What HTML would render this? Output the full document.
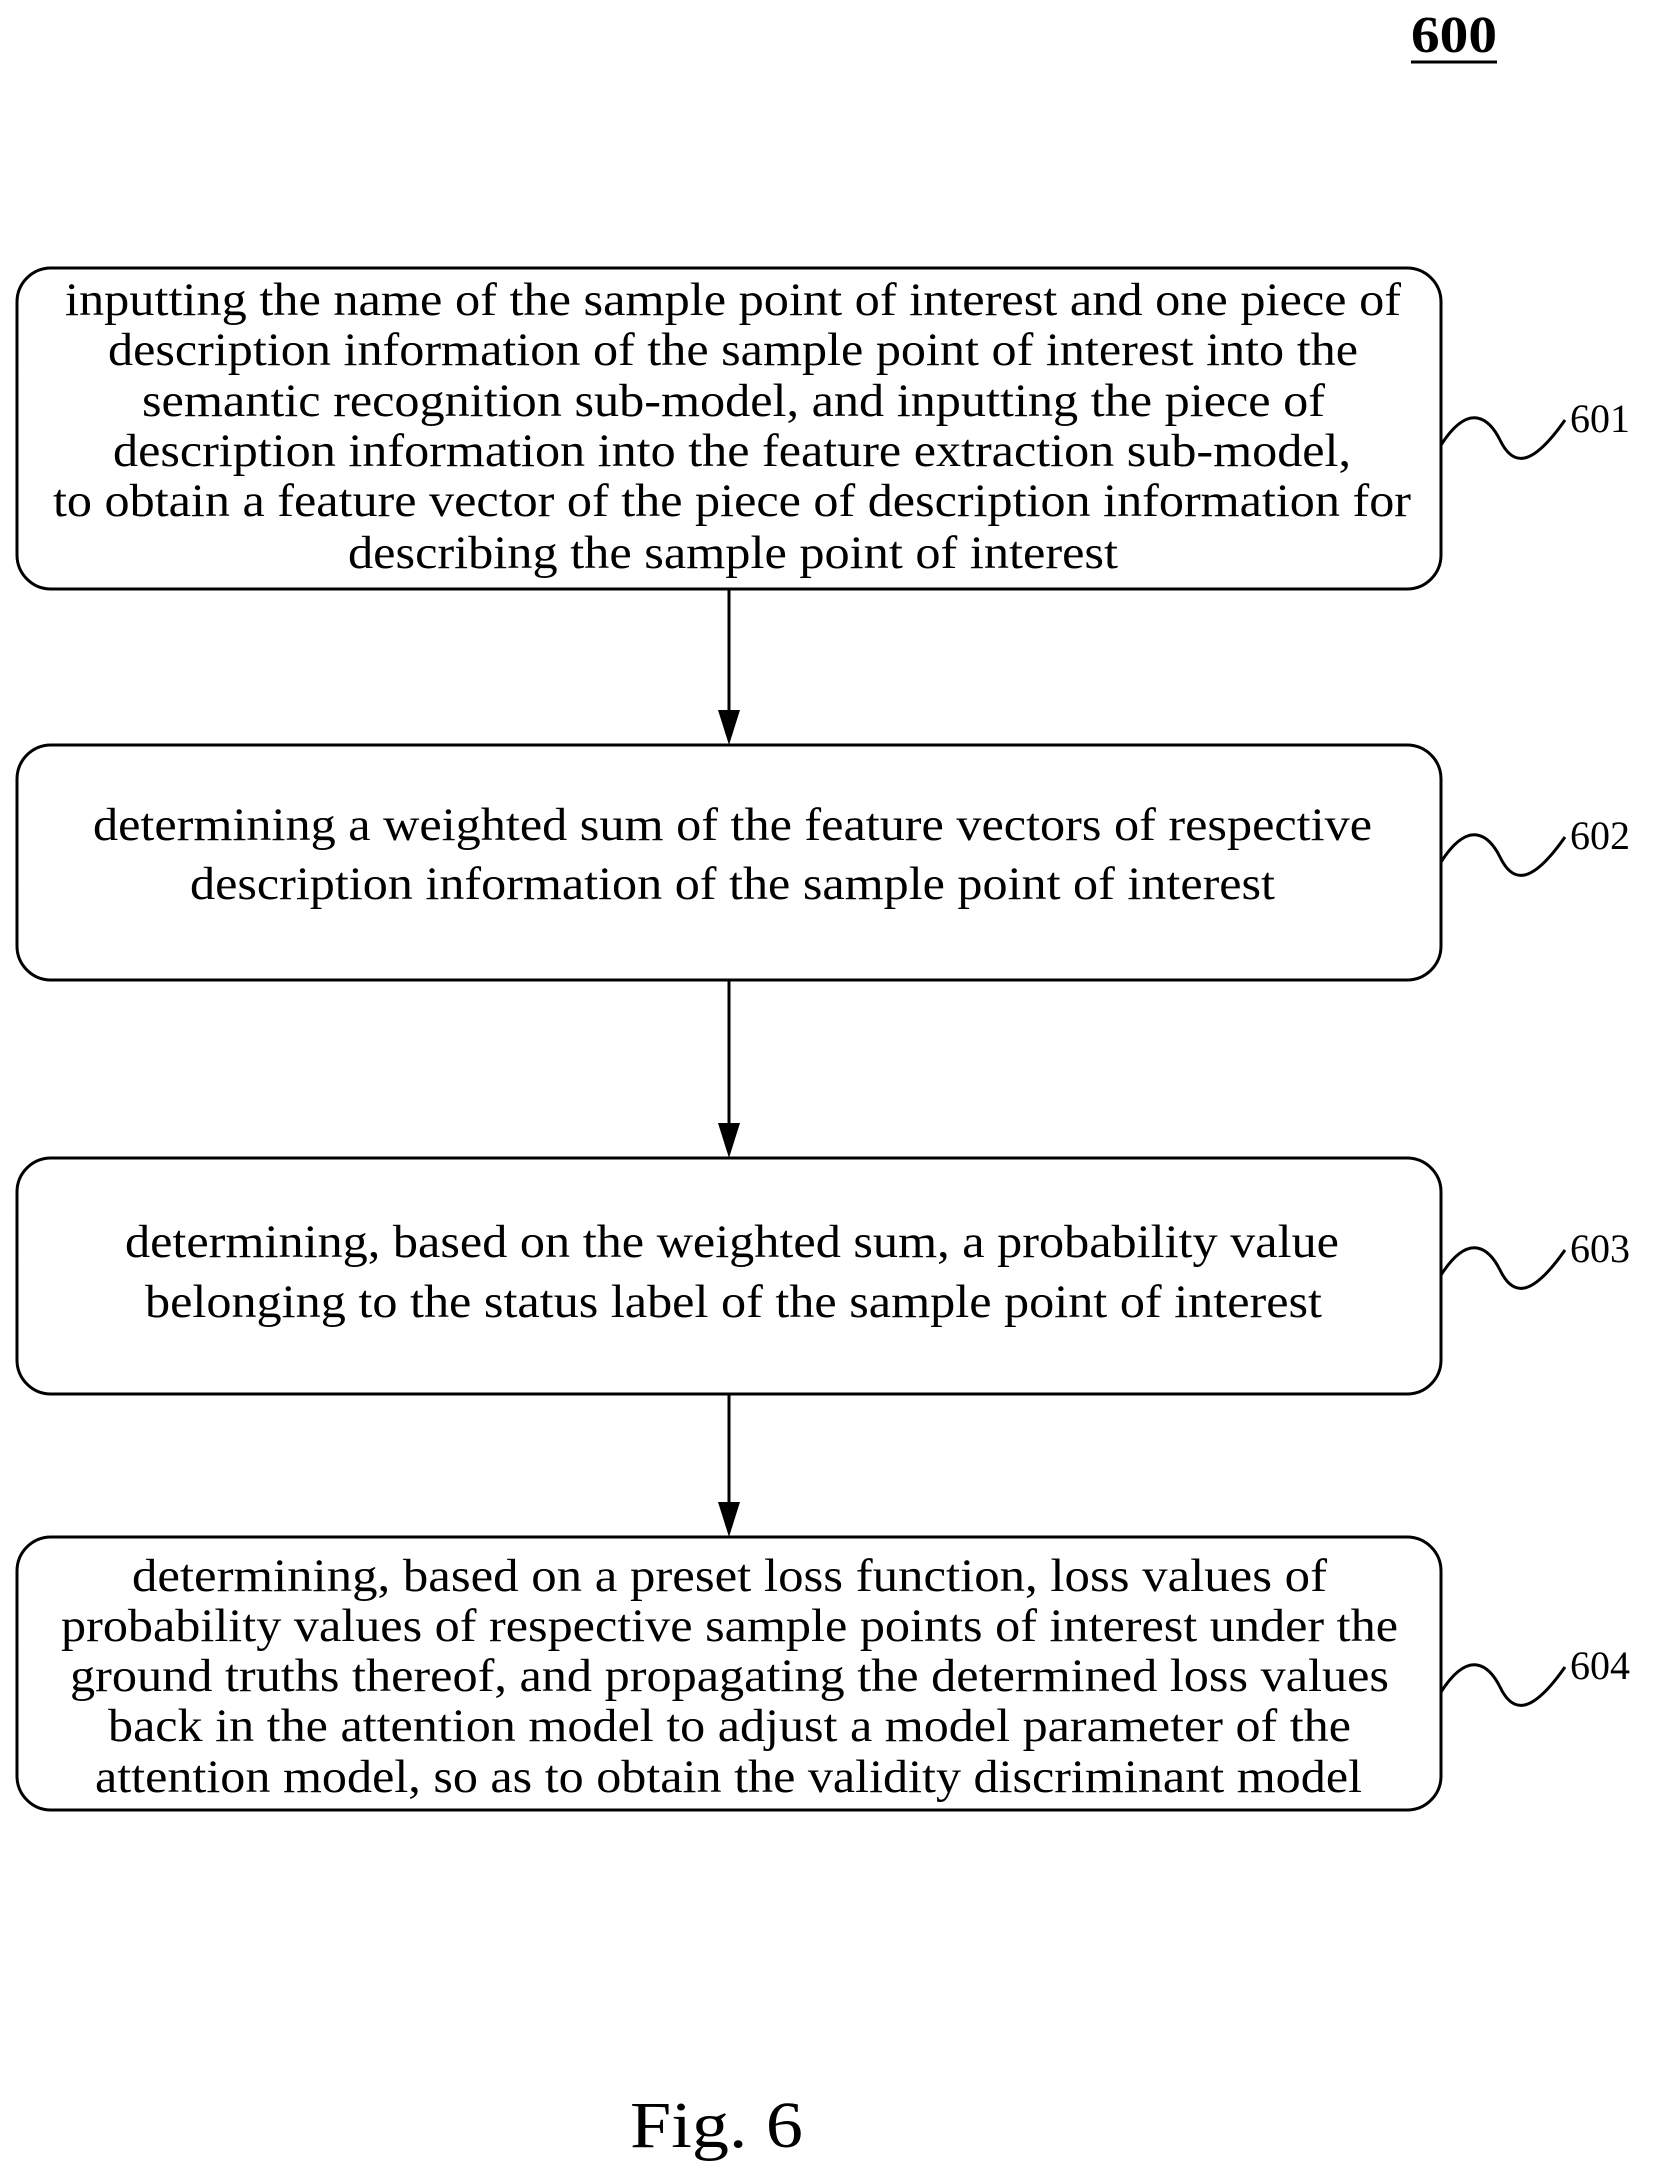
<!DOCTYPE html>
<html><head><style>body{margin:0;background:#fff}svg{display:block}text{font-family:"Liberation Serif","Times New Roman",serif}</style></head><body>
<svg width="1654" height="2173" viewBox="0 0 1654 2173" xmlns="http://www.w3.org/2000/svg" fill="#000">
<text x="1454" y="52" font-size="52" font-weight="bold" text-anchor="middle" textLength="86" lengthAdjust="spacingAndGlyphs">600</text>
<line x1="1411" y1="62" x2="1497" y2="62" stroke="#000" stroke-width="3"/>
<g fill="none" stroke="#000" stroke-width="3">
<rect x="17" y="268" width="1424" height="321" rx="34"/>
<rect x="17" y="745" width="1424" height="235" rx="34"/>
<rect x="17" y="1158" width="1424" height="236" rx="34"/>
<rect x="17" y="1537" width="1424" height="273" rx="34"/>
<line x1="729" y1="589" x2="729" y2="715"/>
<line x1="729" y1="980" x2="729" y2="1128"/>
<line x1="729" y1="1394" x2="729" y2="1507"/>
<path d="M1441 445 C1470 400,1490 420,1500 440 C1512 465,1530 470,1565 420"/>
<path d="M1441 862 C1470 817,1490 837,1500 857 C1512 882,1530 887,1565 837"/>
<path d="M1441 1275 C1470 1230,1490 1250,1500 1270 C1512 1295,1530 1300,1565 1250"/>
<path d="M1441 1692 C1470 1647,1490 1667,1500 1687 C1512 1712,1530 1717,1565 1667"/>
</g>
<path d="M718 710 L740 710 L729 745 Z"/>
<path d="M718 1123 L740 1123 L729 1158 Z"/>
<path d="M718 1502 L740 1502 L729 1537 Z"/>
<g font-size="40">
<text x="1570" y="432">601</text>
<text x="1570" y="849">602</text>
<text x="1570" y="1262">603</text>
<text x="1570" y="1679">604</text>
</g>
<g font-size="47">
<text x="65" y="315" textLength="1336" lengthAdjust="spacingAndGlyphs">inputting the name of the sample point of interest and one piece of</text>
<text x="108" y="365" textLength="1250" lengthAdjust="spacingAndGlyphs">description information of the sample point of interest into the</text>
<text x="142" y="416" textLength="1183" lengthAdjust="spacingAndGlyphs">semantic recognition sub-model, and inputting the piece of</text>
<text x="113" y="466" textLength="1238" lengthAdjust="spacingAndGlyphs">description information into the feature extraction sub-model,</text>
<text x="53" y="516" textLength="1358" lengthAdjust="spacingAndGlyphs">to obtain a feature vector of the piece of description information for</text>
<text x="348" y="568" textLength="770" lengthAdjust="spacingAndGlyphs">describing the sample point of interest</text>
<text x="93" y="840" textLength="1279" lengthAdjust="spacingAndGlyphs">determining a weighted sum of the feature vectors of respective</text>
<text x="190" y="899" textLength="1085" lengthAdjust="spacingAndGlyphs">description information of the sample point of interest</text>
<text x="125" y="1257" textLength="1214" lengthAdjust="spacingAndGlyphs">determining, based on the weighted sum, a probability value</text>
<text x="145" y="1317" textLength="1177" lengthAdjust="spacingAndGlyphs">belonging to the status label of the sample point of interest</text>
<text x="132" y="1591" textLength="1195" lengthAdjust="spacingAndGlyphs">determining, based on a preset loss function,  loss values of</text>
<text x="61" y="1641" textLength="1337" lengthAdjust="spacingAndGlyphs">probability values of respective sample points of interest under the</text>
<text x="70" y="1691" textLength="1319" lengthAdjust="spacingAndGlyphs">ground truths thereof, and propagating the determined loss values</text>
<text x="108" y="1741" textLength="1243" lengthAdjust="spacingAndGlyphs">back in the attention model to adjust a model parameter of the</text>
<text x="95" y="1792" textLength="1267" lengthAdjust="spacingAndGlyphs">attention model, so as to obtain the validity discriminant model</text>
</g>
<text x="630" y="2147" font-size="66" textLength="173" lengthAdjust="spacingAndGlyphs">Fig. 6</text>
</svg>
</body></html>
